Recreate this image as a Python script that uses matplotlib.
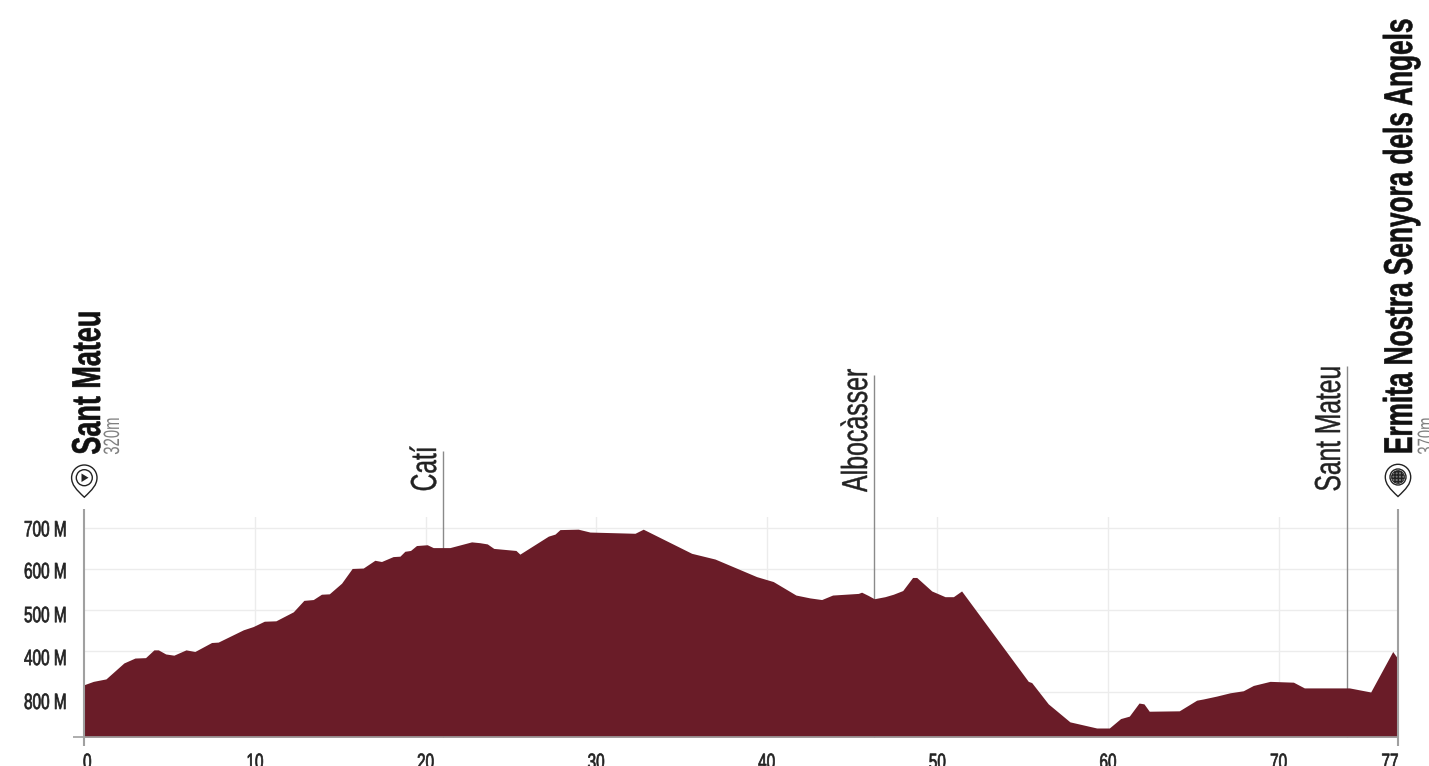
import matplotlib
matplotlib.use('Agg')
import matplotlib.pyplot as plt
from matplotlib.patches import Circle, PathPatch, Polygon
from matplotlib.path import Path
from matplotlib.patheffects import AbstractPathEffect
from matplotlib.transforms import Affine2D

# %% Data
km = [0, 0.53, 1.27, 2.32, 2.97, 3.59, 4.08, 4.34, 4.77, 5.25, 5.96, 6.48, 7.46, 7.85, 9.32, 9.9,
      10.55, 11.23, 12.25, 12.87, 13.42, 13.9, 14.36, 15.08, 15.7, 16.35, 17.03, 17.42, 18.1, 18.5,
      18.79, 19.12, 19.47, 20.1, 20.45, 21.43, 22.7, 23.18, 23.62, 24.0, 25.3, 25.53, 27.2, 27.59,
      27.88, 28.95, 29.64, 32.28, 32.76, 35.6, 36.97, 39.41, 40.38, 41.71, 42.53, 43.22, 43.86,
      45.37, 45.56, 45.95, 46.3, 46.93, 47.42, 47.97, 48.55, 48.79, 49.67, 50.45, 50.94, 51.42,
      55.33, 55.53, 56.5, 57.77, 59.34, 60.08, 60.74, 61.25, 61.82, 62.11, 62.42, 64.18, 65.2,
      65.59, 66.37, 67.15, 67.93, 68.52, 69.5, 70.87, 71.51, 74.15, 75.4, 76.69, 77]
elev = [318, 326, 332, 371, 383, 384, 403, 403, 393, 390, 403, 399, 421, 422, 452, 460,
        473, 474, 496, 524, 526, 539, 540, 566, 602, 603, 622, 619, 631, 632,
        644, 646, 658, 660, 653, 653, 667, 665, 662, 651, 646, 637, 681, 686,
        697, 698, 691, 688, 698, 639, 625, 582, 570, 537, 530, 526, 537,
        541, 544, 536, 528, 533, 539, 548, 580, 580, 547, 533, 533, 547,
        326, 323, 271, 227, 212, 212, 235, 241, 273, 271, 253, 254, 280,
        283, 290, 298, 303, 316, 326, 324, 310, 310, 300, 399, 381]

x_ticks = [0, 10, 20, 30, 40, 50, 60, 70, 77]
x_labels = ['0', '10', '20', '30', '40', '50', '60', '70', '77']
y_ticks = [700, 600, 500, 400, 300]
y_labels = ['700 M', '600 M', '500 M', '400 M', '800 M']

towns = ['Catí', 'Albocàsser', 'Sant Mateu']
town_km = [21.0, 46.3, 74.0]
town_top = [889, 1074, 1096]

start_name, start_height = 'Sant Mateu', '320m'
end_name, end_height = 'Ermita Nostra Senyora dels Angels', '370m'

# %% Setup
W, H = 1429, 766
RED = '#6a1c28'
FONT = ['Liberation Sans', 'DejaVu Sans']


class Condense(AbstractPathEffect):
    """Squeeze glyphs along the baseline, no condensed font is installed"""

    def __init__(self, sx, about=0.0, stroke=0.0):
        super().__init__()
        self.sx = sx
        self.about = about
        self.stroke = stroke

    def draw_path(self, renderer, gc, tpath, affine, rgbFace=None):
        box = tpath.get_extents()
        x0 = box.x0 + self.about * box.width
        squeeze = Affine2D().translate(-x0, 0).scale(self.sx, 1).translate(x0, 0)
        gc.set_linewidth(self.stroke)
        renderer.draw_path(gc, tpath, squeeze + affine, rgbFace)


fig = plt.figure(figsize=(W / 100, H / 100), dpi=100)
ax = fig.add_axes([84.3 / W, (H - 737) / H, (1398 - 84.3) / W, (737 - 517) / H])
ax.set_xlim(0, 77)
ax.set_ylim(190, 727.8)
for s in ax.spines.values():
    s.set_visible(False)

# pixel coords measured from the top left corner
px = Affine2D().scale(1, -1).translate(0, H)

ax.set_xticks(x_ticks[1:-1])
ax.set_yticks(y_ticks)
ax.set_xticklabels([])
ax.set_yticklabels([])
ax.tick_params(length=0)
ax.grid(color='#ececec', lw=1)
ax.set_axisbelow(True)

# %% Profile
ax.fill_between(km, elev, 190, color=RED, lw=0, zorder=3)

ax.hlines(190, -0.65, 77, color='#a0a0a0', lw=1.2, clip_on=False, zorder=4)
ax.vlines([0, 77], 168, 747, color='#a0a0a0', lw=1.5, clip_on=False, zorder=4)
ax.vlines(town_km, 190, town_top, color='#8a8a8a', lw=1, clip_on=False, zorder=2)

# %% Axis labels
for val, lab, shift in zip(x_ticks, x_labels, [3, 0, 0, 0, 0, 0, 0, 0, -8]):
    ax.annotate(lab, (val, 190), xytext=(shift, -32), textcoords='offset pixels', ha='center', va='baseline',
                fontsize=16, family=FONT, color='#222222', annotation_clip=False,
                path_effects=[Condense(0.69, about=0.5, stroke=0.5)])
for val, lab, shift in zip(y_ticks, y_labels, [0, -1, -4, -6, -9]):
    ax.annotate(lab, (0, val), xytext=(-17, shift - 8), textcoords='offset pixels', ha='right', va='baseline',
                fontsize=16, family=FONT, color='#222222', annotation_clip=False,
                path_effects=[Condense(0.69, about=1.0, stroke=0.5)])


# %% Place names, baseline x and start y in pixels
def vtext(x, y, s, sx, stroke=0.0, **kw):
    fig.text(x, y, s, transform=px, rotation=90, rotation_mode='anchor', ha='left', va='baseline',
             family=FONT, path_effects=[Condense(sx, stroke=stroke)], **kw)


vtext(100, 455, start_name, 0.67, stroke=0.4, fontsize=29, fontweight='bold', color='#111111')
vtext(119, 455, start_height, 0.67, fontsize=16, color='#808080')
vtext(1412, 455, end_name, 0.65, stroke=0.4, fontsize=29, fontweight='bold', color='#111111')
vtext(1433, 455, end_height, 0.67, fontsize=16, color='#808080')
for name, base, sx in zip(towns, [436, 867, 1340], [0.68, 0.69, 0.68]):
    vtext(base, 492, name, sx, stroke=0.3, fontsize=26, color='#222222')


# %% Pins
def pin(cx, cy):
    r = 12.7
    k = 0.5523 * r
    verts = [(cx, cy + 19.5), (cx - 8, cy + 12), (cx - r, cy + k), (cx - r, cy),
             (cx - r, cy - k), (cx - k, cy - r), (cx, cy - r),
             (cx + k, cy - r), (cx + r, cy - k), (cx + r, cy),
             (cx + r, cy + k), (cx + 8, cy + 12), (cx, cy + 19.5), (cx, cy + 19.5)]
    codes = [Path.MOVETO] + [Path.CURVE4] * 12 + [Path.CLOSEPOLY]
    fig.add_artist(PathPatch(Path(verts, codes), transform=px, fc='white', ec='#222222', lw=1))
    fig.add_artist(Circle((cx, cy), 8, transform=px, fc='white', ec='#222222', lw=1))


pin(84.3, 477.7)
fig.add_artist(Polygon([(81.5, 473.5), (81.5, 482), (88.5, 477.7)], transform=px, fc='#222222', ec='none'))
pin(1398, 477)
fig.add_artist(Circle((1398, 477), 6.5, transform=px, fc='#777777', ec='#222222', lw=0.5, hatch='+++++'))

fig.savefig('out.png', dpi=100)
